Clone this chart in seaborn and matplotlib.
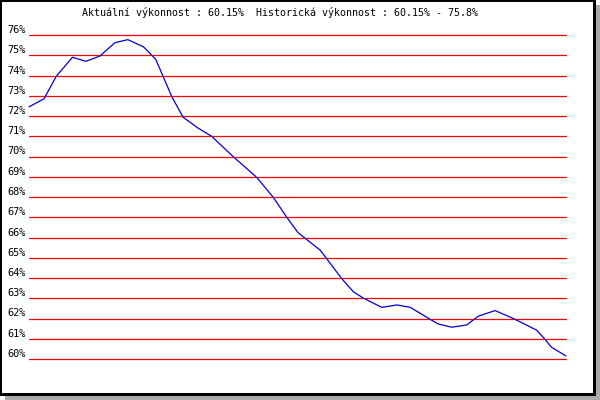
import matplotlib
matplotlib.use("Agg")
import matplotlib.pyplot as plt
from matplotlib.patches import Rectangle
import pandas as pd
import seaborn as sns

sns.set_style("white")
plt.rcParams["font.family"] = ["DejaVu Sans Mono"]
plt.rcParams["text.color"] = "black"
plt.rcParams["ytick.color"] = "black"

# ── data ─────────────────────────────────────────────────────────────────
title = "Aktuální výkonnost : 60.15%  Historická výkonnost : 60.15% - 75.8%"
steps = [0, 2.8, 5.1, 8.1, 10.6, 13.2, 16.0, 18.4, 21.3, 23.6, 25.0, 26.6,
         28.7, 31.5, 34.0, 38.0, 42.4, 45.5, 48.0, 50.1, 54.2, 55.4, 58.2,
         60.4, 62.3, 65.7, 68.5, 71.0, 74.7, 76.2, 78.7, 81.5, 83.7, 86.8,
         90.2, 94.5, 96.1, 97.3, 100]
perf = [72.45, 72.85, 73.97, 74.9, 74.7, 74.96, 75.62, 75.77, 75.42, 74.8,
        73.94, 72.95, 71.94, 71.4, 71.0, 70.0, 68.97, 67.98, 67.0, 66.24,
        65.38, 64.97, 63.98, 63.32, 63.0, 62.55, 62.67, 62.55, 61.96, 61.73,
        61.57, 61.68, 62.12, 62.39, 62.0, 61.43, 60.97, 60.58, 60.15]
levels = list(range(60, 77))
level_labels = [f"{v}%" for v in levels]

df = pd.DataFrame({"t": steps, "perf": perf})

W, H = 600, 400
fig = plt.figure(figsize=(W / 100, H / 100), dpi=100, facecolor="white")

# frame: grey shadow, black border, white panel
fig.add_artist(Rectangle((5 / W, 0), 595 / W, 395 / H, transform=fig.transFigure,
                         facecolor="#aaaaaa", edgecolor="none", zorder=0))
fig.add_artist(Rectangle((0, 4 / H), 596 / W, 396 / H, transform=fig.transFigure,
                         facecolor="black", edgecolor="none", zorder=0))
fig.add_artist(Rectangle((2 / W, 7 / H), 591 / W, 391 / H, transform=fig.transFigure,
                         facecolor="white", edgecolor="none", zorder=0))

ax = fig.add_axes([29 / W, 41 / H, 537 / W, 324 / H])
ax.set_facecolor("none")
ax.set_zorder(2)

for v in levels:
    ax.axhline(v, color="#ff0000", lw=0.9, zorder=1, clip_on=False)

sns.lineplot(data=df, x="t", y="perf", ax=ax, color="#0000cc", lw=0.9,
             zorder=3, clip_on=False)

ax.set_xlim(0, 100)
ax.set_ylim(60, 76)
ax.set_xticks([])
ax.set_yticks(levels)
ax.set_yticklabels(level_labels, fontsize=7.4, color="black")
for lab in ax.get_yticklabels():
    lab.set_verticalalignment("bottom")
ax.tick_params(axis="y", length=0, pad=2.2)
ax.set_xlabel("")
ax.set_ylabel("")
for s in ax.spines.values():
    s.set_visible(False)

fig.text(280 / W, 1 - 13 / H, title, ha="center", va="center", fontsize=7.2,
         color="black")

fig.savefig("out.png", dpi=100)
